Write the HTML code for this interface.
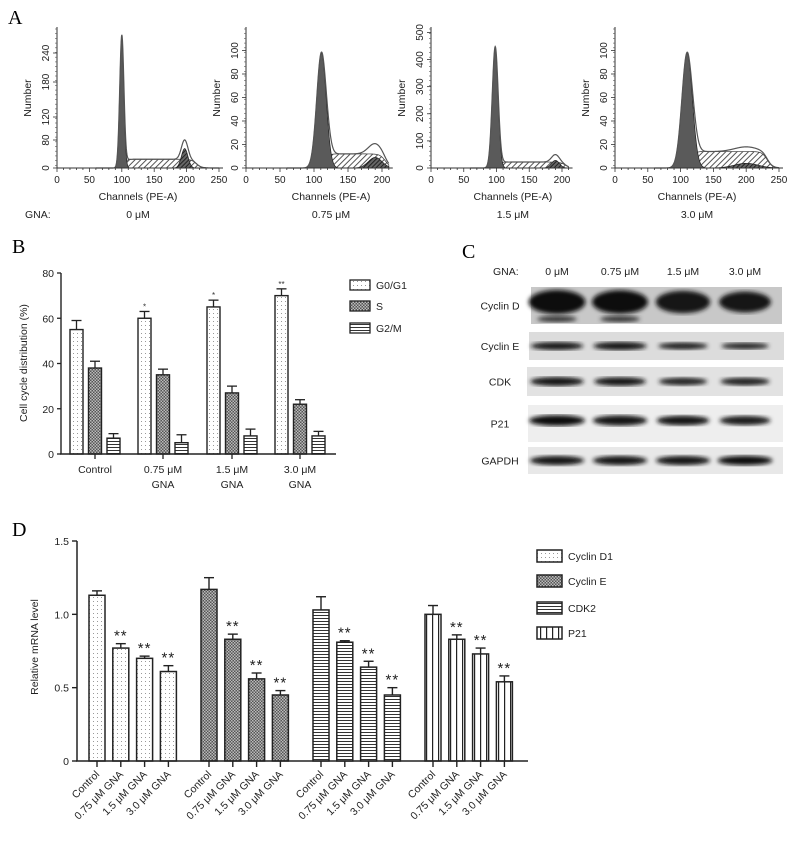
<!DOCTYPE html>
<html><head><meta charset="utf-8"><style>
html,body{margin:0;padding:0;background:#fff;width:792px;height:852px;overflow:hidden}
svg{display:block;font-family:"Liberation Sans",Arial,sans-serif}
.ser{font-family:"Liberation Serif",serif}
</style></head><body>
<svg id="fig" width="792" height="852" viewBox="0 0 792 852" xmlns="http://www.w3.org/2000/svg">
<defs>
<pattern id="dots" width="4" height="4" patternUnits="userSpaceOnUse"><rect width="4" height="4" fill="#fff"/><rect x="1" y="1" width="1" height="1" fill="#999"/></pattern>
<pattern id="check" width="3" height="3" patternUnits="userSpaceOnUse"><rect width="3" height="3" fill="#555"/><rect x="0" y="0" width="1.5" height="1.5" fill="#bbb"/><rect x="1.5" y="1.5" width="1.5" height="1.5" fill="#bbb"/></pattern>
<pattern id="hlines" width="4" height="3" patternUnits="userSpaceOnUse"><rect width="4" height="3" fill="#fff"/><rect y="0" width="4" height="1" fill="#333"/></pattern>
<pattern id="vlines" width="6" height="4" patternUnits="userSpaceOnUse"><rect width="6" height="4" fill="#fff"/><rect x="0" width="1.2" height="4" fill="#222"/></pattern>
<pattern id="hatch" width="4" height="4" patternUnits="userSpaceOnUse" patternTransform="rotate(45)"><rect width="4" height="4" fill="#fff"/><rect width="1" height="4" fill="#555"/></pattern>
<pattern id="hatchd" width="3" height="3" patternUnits="userSpaceOnUse" patternTransform="rotate(45)"><rect width="3" height="3" fill="#666"/><rect width="1" height="3" fill="#222"/></pattern>
<filter id="blur"><feGaussianBlur stdDeviation="2.2"/></filter>
</defs>

<text class="ser" x="8" y="24" font-size="20">A</text>
<text class="ser" x="12" y="253" font-size="20">B</text>
<text class="ser" x="462" y="258" font-size="20">C</text>
<text class="ser" x="12" y="536" font-size="20">D</text>

<g id="panelA"></g>
<g id="panelB"></g>
<g id="panelC"></g>
<g id="panelD"></g>
</svg>
<script>
// ---------- Panel A data ----------
const histDoses = ["0 \u03bcM","0.75 \u03bcM","1.5 \u03bcM","3.0 \u03bcM"];
const histYTicks = [[0,80,120,180,240],[0,20,40,60,80,100],[0,100,200,300,400,500],[0,20,40,60,80,100]];
const histYMax = [290,120,520,120];
const histXMax = [250,210,210,250];
const g1Center = [100,111,98,110];
const g1Height = [270,98,445,98];
const g1Sd = [3.2,7,4.5,8];
const sLevel = [18,12,22,14];
const g2Center = [197,190,190,200];
const g2Height = [40,9,28,4];
const g2Sd = [5,10,6,18];
const sEnd = [215,205,205,232];

// ---------- Panel B data ----------
const bCategories = ["Control","0.75 \u03bcM","1.5 \u03bcM","3.0 \u03bcM"];
const bSeries = ["G0/G1","S","G2/M"];
const bG0 = [55,60,65,70];
const bS = [38,35,27,22];
const bG2 = [7,5,8,8];
const bG0Err = [4,3,3,3];
const bSErr = [3,2.5,3,2];
const bG2Err = [2,3.5,3,2];
const bG0Stars = ["","*","*","**"];
const bYTicks = [0,20,40,60,80];

// ---------- Panel D data ----------
const dGenes = ["Cyclin D1","Cyclin E","CDK2","P21"];
const dTreat = ["Control","0.75 \u03bcM GNA","1.5 \u03bcM GNA","3.0 \u03bcM GNA"];
const dCycD1 = [1.13,0.77,0.70,0.61];
const dCycE = [1.17,0.83,0.56,0.45];
const dCDK2 = [1.03,0.81,0.64,0.45];
const dP21 = [1.00,0.83,0.73,0.54];
const dCycD1Err = [0.03,0.03,0.015,0.04];
const dCycEErr = [0.08,0.035,0.04,0.03];
const dCDK2Err = [0.09,0.01,0.04,0.05];
const dP21Err = [0.06,0.03,0.04,0.04];
const dYTicks = [0,0.5,1.0,1.5];

// ---------- Panel C data ----------
const cProteins = ["Cyclin D","Cyclin E","CDK","P21","GAPDH"];
const cDoses = ["0 \u03bcM","0.75 \u03bcM","1.5 \u03bcM","3.0 \u03bcM"];
const cCycD = [1.0,0.95,0.85,0.7];
const cCycE = [0.75,0.8,0.55,0.45];
const cCDK = [0.8,0.7,0.5,0.55];
const cP21 = [0.95,0.85,0.75,0.65];
const cGAPDH = [0.85,0.85,0.85,0.9];

const NS="http://www.w3.org/2000/svg";
function mk(parent,tag,attrs,text){const e=document.createElementNS(NS,tag);for(const k in attrs)e.setAttribute(k,attrs[k]);if(text!==undefined)e.textContent=text;parent.appendChild(e);return e;}

// ===== Panel A =====
(function(){
const A=document.getElementById('panelA');
const axX=[57,246,431,615], pxPerUnit=[0.648,0.68,0.655,0.656];
const base=168, top=27;
const labelPos=[[168,140,117,82,53],null,null,null];
for(let p=0;p<4;p++){
  const g=mk(A,'g',{});
  
  
  const x0=axX[p], k=pxPerUnit[p];
  const xs=v=>x0+v*k;
  const ys=v=>base-v*(base-top)/histYMax[p];
  const x1=xs(histXMax[p]);
  const g1=x=>g1Height[p]*Math.exp(-Math.pow(x-g1Center[p],2)/(2*g1Sd[p]*g1Sd[p]));
  const g2=x=>g2Height[p]*Math.exp(-Math.pow(x-g2Center[p],2)/(2*g2Sd[p]*g2Sd[p]));
  const sp=x=>sLevel[p]/(1+Math.exp(-(x-g1Center[p]-g1Sd[p])/2.5))/(1+Math.exp((x-sEnd[p])/4));
  let sPts=[],g1Pts=[],g2Pts=[],tPts=[];
  for(let x=60;x<=histXMax[p];x+=0.5){
    sPts.push(xs(x)+','+ys(sp(x)));
    g1Pts.push(xs(x)+','+ys(g1(x)));
    g2Pts.push(xs(x)+','+ys(g2(x)));
    tPts.push(xs(x)+','+ys(g1(x)+g2(x)+sp(x)));
  }
  const close=' '+xs(histXMax[p])+','+base+' '+xs(60)+','+base;
  mk(g,'polygon',{points:sPts.join(' ')+close,fill:'url(#hatch)',stroke:'#333','stroke-width':0.7});
  mk(g,'polygon',{points:g2Pts.join(' ')+close,fill:'url(#hatchd)',stroke:'#222','stroke-width':0.7});
  mk(g,'polygon',{points:g1Pts.join(' ')+close,fill:'#5a5a5a',stroke:'#222','stroke-width':0.7});
  mk(g,'polyline',{points:tPts.join(' '),fill:'none',stroke:'#555','stroke-width':1.2});
  mk(g,'line',{x1:x0,y1:top,x2:x0,y2:base,stroke:'#333','stroke-width':1});
  mk(g,'line',{x1:x0,y1:base,x2:x1+4,y2:base,stroke:'#333','stroke-width':1});
  for(let v=0;v<=histXMax[p];v+=10){mk(g,'line',{x1:xs(v),y1:base,x2:xs(v),y2:base+(v%50?2:4),stroke:'#333','stroke-width':0.8});}
  for(let v=0;v<=histXMax[p];v+=50){
    const t=mk(g,'text',{x:xs(v),y:base+15,'font-size':10,'text-anchor':'middle',fill:'#222'},String(v));
    
    
  }
  for(let y=top+2;y<base;y+=4.7){mk(g,'line',{x1:x0-2,y1:y,x2:x0,y2:y,stroke:'#555','stroke-width':0.6});}
  histYTicks[p].forEach((v,i)=>{
    const yy=labelPos[p]?labelPos[p][i]:ys(v);
    mk(g,'line',{x1:x0-4,y1:yy,x2:x0,y2:yy,stroke:'#333','stroke-width':0.8});
    const t=mk(g,'text',{x:x0-8,y:yy,'font-size':10,'text-anchor':'middle',transform:`rotate(-90 ${x0-8} ${yy})`,fill:'#222'},String(v));
    
    
  });
  const yl=mk(g,'text',{x:x0-26,y:98,'font-size':10.5,'text-anchor':'middle',transform:`rotate(-90 ${x0-26} 98)`,fill:'#222'},'Number');
  
  
  const xl=mk(g,'text',{x:xs(125),y:200,'font-size':10.5,'text-anchor':'middle',fill:'#222'},'Channels (PE-A)');
  
  
  const dl=mk(g,'text',{x:xs(125),y:218,'font-size':10.5,'text-anchor':'middle',fill:'#222'},histDoses[p]);
  
  
}
const gl=mk(A,'text',{x:25,y:218,'font-size':10.5,fill:'#222'},'GNA:');


})();

// ===== Panel B =====
(function(){
const B=document.getElementById('panelB');
const x0=61,x1=336,y0=454,y80=273;
const ys=v=>y0-(y0-y80)*v/80;
const groupX=[95,163,232,300], off=[-18.5,0,18.5], bw=13;
const fills=['url(#dots)','url(#check)','url(#hlines)'];
const vals=[bG0,bS,bG2], errs=[bG0Err,bSErr,bG2Err];
bCategories.forEach((c,i)=>{
  for(let s=0;s<3;s++){
    const cx=groupX[i]+off[s], v=vals[s][i], e=errs[s][i];
    mk(B,'line',{x1:cx,y1:ys(v),x2:cx,y2:ys(v+e),stroke:'#222','stroke-width':1.3});
    mk(B,'line',{x1:cx-5,y1:ys(v+e),x2:cx+5,y2:ys(v+e),stroke:'#222','stroke-width':1.3});
    const r=mk(B,'rect',{x:cx-bw/2,y:ys(v),width:bw,height:y0-ys(v),fill:fills[s],stroke:'#222','stroke-width':1.4});
    
    
  }
  if(bG0Stars[i]){mk(B,'text',{x:groupX[i]+off[0],y:ys(bG0[i]+bG0Err[i])-2,'font-size':8,'text-anchor':'middle',fill:'#333'},bG0Stars[i]);}
  mk(B,'line',{x1:groupX[i],y1:y0,x2:groupX[i],y2:y0+5,stroke:'#222','stroke-width':1.3});
  const t=mk(B,'text',{x:groupX[i],y:473,'font-size':10.5,'text-anchor':'middle',fill:'#222'},c);
  
  
  if(i>0)mk(B,'text',{x:groupX[i],y:488,'font-size':10.5,'text-anchor':'middle',fill:'#222'},'GNA');
});
mk(B,'line',{x1:x0,y1:y80,x2:x0,y2:y0,stroke:'#222','stroke-width':1.4});
mk(B,'line',{x1:x0-1,y1:y0,x2:x1,y2:y0,stroke:'#222','stroke-width':1.4});
bYTicks.forEach(v=>{
  mk(B,'line',{x1:x0-4,y1:ys(v),x2:x0,y2:ys(v),stroke:'#222','stroke-width':1.3});
  const t=mk(B,'text',{x:x0-7,y:ys(v)+4,'font-size':10.5,'text-anchor':'end',fill:'#222'},String(v));
  
  
});
const yl=mk(B,'text',{x:27,y:363,'font-size':10.5,'text-anchor':'middle',transform:'rotate(-90 27 363)',fill:'#222'},'Cell cycle distribution (%)');


const ly=[280,301,323];
bSeries.forEach((s,i)=>{
  const r=mk(B,'rect',{x:350,y:ly[i],width:20,height:10,fill:fills[i],stroke:'#222','stroke-width':1.3});
  
  
  const t=mk(B,'text',{x:376,y:ly[i]+9,'font-size':10.5,fill:'#222'},s);
  
  
});
})();

// ===== Panel C =====
(function(){
const C=document.getElementById('panelC');
const doseX=[557,620,683,745];
const gl=mk(C,'text',{x:493,y:275,'font-size':10.5,fill:'#222'},'GNA:');


cDoses.forEach((d,i)=>{
  const t=mk(C,'text',{x:doseX[i],y:275,'font-size':10.5,'text-anchor':'middle',fill:'#222'},d);
  
  
});
const boxes=[[531,287,251,37],[529,332,255,28],[527,367,256,29],[528,405,255,37],[528,447,255,27]];
const bandH=[22,8,9,10,9];
const data=[cCycD,cCycE,cCDK,cP21,cGAPDH];
const bg=['#c8c8c8','#dcdcdc','#e2e2e2','#eeeeee','#e8e8e8'];
cProteins.forEach((p,r)=>{
  const [bx,by,bw,bh]=boxes[r];
  const g=mk(C,'g',{});
  
  
  mk(g,'rect',{x:bx,y:by,width:bw,height:bh,fill:bg[r]});
  const cy=r===0?by+15:by+bh/2+(r===3?-3:0);
  data[r].forEach((v,i)=>{
    const w=54*(0.75+0.3*v), h=bandH[r]*(0.6+0.5*v);
    const dark=Math.round(60-50*v);
    mk(g,'ellipse',{cx:doseX[i],cy:cy,rx:w/2,ry:h/2,fill:`rgb(${dark},${dark},${dark})`,filter:'url(#blur)'});
  });
  if(r===0){[557,620].forEach(x=>mk(g,'ellipse',{cx:x,cy:by+32,rx:20,ry:3,fill:'#333',filter:'url(#blur)'}));}
  const ly=by+bh/2+4;
  const t=mk(C,'text',{x:500,y:ly,'font-size':10.5,'text-anchor':'middle',fill:'#222'},p);
  
  
});
})();

// ===== Panel D =====
(function(){
const D=document.getElementById('panelD');
const x0=77,x1=528,y0=761,yTop=541;
const ys=v=>y0-(y0-yTop)*v/1.5;
const groupStart=[97,209,321,433], step=23.8, bw=16;
const fills=['url(#dots)','url(#check)','url(#hlines)','url(#vlines)'];
const vals=[dCycD1,dCycE,dCDK2,dP21], errs=[dCycD1Err,dCycEErr,dCDK2Err,dP21Err];
dGenes.forEach((gname,gi)=>{
  dTreat.forEach((tr,i)=>{
    const cx=groupStart[gi]+i*step, v=vals[gi][i], e=errs[gi][i];
    mk(D,'line',{x1:cx,y1:ys(v),x2:cx,y2:ys(v+e),stroke:'#222','stroke-width':1.4});
    mk(D,'line',{x1:cx-5,y1:ys(v+e),x2:cx+5,y2:ys(v+e),stroke:'#222','stroke-width':1.4});
    const r=mk(D,'rect',{x:cx-bw/2,y:ys(v),width:bw,height:y0-ys(v),fill:fills[gi],stroke:'#222','stroke-width':1.5});
    
    
    if(i>0){mk(D,'text',{x:cx,y:ys(v+e)-3,'font-size':15,'text-anchor':'middle',fill:'#222','letter-spacing':'1'},'**');}
    mk(D,'line',{x1:cx,y1:y0,x2:cx,y2:y0+6,stroke:'#222','stroke-width':1.4});
    const t=mk(D,'text',{x:cx+3,y:y0+14,'font-size':10.5,'text-anchor':'end',transform:`rotate(-45 ${cx+3} ${y0+14})`,fill:'#222'},tr);
    
    
  });
});
mk(D,'line',{x1:x0,y1:yTop,x2:x0,y2:y0,stroke:'#222','stroke-width':1.5});
mk(D,'line',{x1:x0-1,y1:y0,x2:x1,y2:y0,stroke:'#222','stroke-width':1.5});
dYTicks.forEach(v=>{
  mk(D,'line',{x1:x0-5,y1:ys(v),x2:x0,y2:ys(v),stroke:'#222','stroke-width':1.4});
  const t=mk(D,'text',{x:x0-8,y:ys(v)+4,'font-size':10.5,'text-anchor':'end',fill:'#222'},v===0?'0':v.toFixed(1));
  
  
});
const yl=mk(D,'text',{x:38,y:647,'font-size':10.5,'text-anchor':'middle',transform:'rotate(-90 38 647)',fill:'#222'},'Relative mRNA level');


const ly=[550,575,602,627];
dGenes.forEach((g,i)=>{
  const r=mk(D,'rect',{x:537,y:ly[i],width:25,height:12,fill:fills[i],stroke:'#222','stroke-width':1.5});
  
  
  const t=mk(D,'text',{x:568,y:ly[i]+10,'font-size':10.5,fill:'#222'},g);
  
  
});
})();
</script>
</body></html>
